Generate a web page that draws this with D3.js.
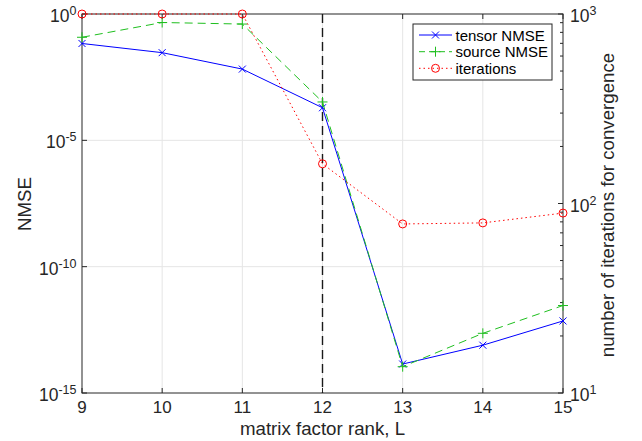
<!DOCTYPE html>
<html><head><meta charset="utf-8">
<script src="https://cdn.jsdelivr.net/npm/d3@7"></script>
<style>body{margin:0;background:#fff;} svg{display:block;font-family:"Liberation Sans",Arial,Helvetica,sans-serif;}</style>
</head><body>
<svg id="c" width="642" height="441"></svg>
<script>
const ranks = [9, 10, 11, 12, 13, 14, 15];
const tensorNMSE = [6.8e-2, 2.95e-2, 6.6e-3, 1.95e-4, 1.4e-14, 7.8e-14, 7.1e-13];
const sourceNMSE = [1.2e-1, 4.6e-1, 4.0e-1, 3.3e-4, 1.1e-14, 2.3e-13, 2.9e-12];
const iterations = [1000, 1000, 1000, 162, 78, 79, 89];
const leftTickExps = [0, -5, -10, -15];
const rightTickExps = [1, 2, 3];
const legendLabels = ["tensor NMSE", "source NMSE", "iterations"];
const markerRank = 12;

const L = 82, R = 563, T = 14, B = 393;
const axisColor = "#262626", gridColor = "#e5e5e5";
const svg = d3.select("#c");

const x = d3.scaleLinear().domain([9, 15]).range([L, R]);
const yL = d3.scaleLog().domain([1e-15, 1]).range([B, T]);
const yR = d3.scaleLog().domain([10, 1000]).range([B, T]);

// grid
const g = svg.append("g");
g.selectAll("line.vg").data(ranks.slice(1, -1)).enter().append("line")
  .attr("x1", d => x(d)).attr("x2", d => x(d)).attr("y1", T).attr("y2", B)
  .attr("stroke", gridColor).attr("stroke-width", 1);
g.selectAll("line.hg").data(leftTickExps.slice(1, -1)).enter().append("line")
  .attr("y1", d => yL(Math.pow(10, d))).attr("y2", d => yL(Math.pow(10, d))).attr("x1", L).attr("x2", R)
  .attr("stroke", gridColor).attr("stroke-width", 1);

// frame
svg.append("rect").attr("x", L).attr("y", T).attr("width", R - L).attr("height", B - T)
  .attr("fill", "none").attr("stroke", axisColor).attr("stroke-width", 1);

// x ticks (bottom + top, inward)
ranks.forEach(r => {
  svg.append("line").attr("x1", x(r)).attr("x2", x(r)).attr("y1", B).attr("y2", B - 5).attr("stroke", axisColor);
  svg.append("line").attr("x1", x(r)).attr("x2", x(r)).attr("y1", T).attr("y2", T + 5).attr("stroke", axisColor);
  svg.append("text").attr("x", x(r)).attr("y", B + 20).attr("text-anchor", "middle")
    .attr("font-size", 17).attr("fill", axisColor).text(r);
});

// left ticks
leftTickExps.forEach(e => {
  const yy = yL(Math.pow(10, e));
  svg.append("line").attr("x1", L).attr("x2", L + 5).attr("y1", yy).attr("y2", yy).attr("stroke", axisColor);
  const t = svg.append("text").attr("x", 76.5).attr("y", yy + 8).attr("text-anchor", "end")
    .attr("font-size", 17.5).attr("fill", axisColor);
  t.append("tspan").text("10");
  t.append("tspan").attr("dy", -7).attr("font-size", 12.5).text(e);
});

// right ticks (major + minor)
rightTickExps.forEach(e => {
  const yy = yR(Math.pow(10, e));
  svg.append("line").attr("x1", R).attr("x2", R - 5).attr("y1", yy).attr("y2", yy).attr("stroke", axisColor);
  const t = svg.append("text").attr("x", 570).attr("y", yy + 8).attr("text-anchor", "start")
    .attr("font-size", 17.5).attr("fill", axisColor);
  t.append("tspan").text("10");
  t.append("tspan").attr("dy", -7).attr("font-size", 12.5).text(e);
});
const minor = [];
[10, 100].forEach(b => { for (let k = 2; k <= 9; k++) minor.push(b * k); });
minor.forEach(v => {
  const yy = yR(v);
  svg.append("line").attr("x1", R).attr("x2", R - 3).attr("y1", yy).attr("y2", yy).attr("stroke", axisColor);
});

// vertical dashed line at rank 12
svg.append("line").attr("x1", x(markerRank)).attr("x2", x(markerRank)).attr("y1", T).attr("y2", B)
  .attr("stroke", "#1a1a1a").attr("stroke-width", 1.4).attr("stroke-dasharray", "9,5");

// series
const blue = "#0000ff", green = "#1fbf1f", red = "#ff0000";
const lineL = d3.line().x((d, i) => x(ranks[i])).y(d => yL(d));
const lineR = d3.line().x((d, i) => x(ranks[i])).y(d => yR(d));

function xMark(sel, cx, cy, c) {
  const s = 3.5;
  sel.append("path").attr("d", `M${cx - s},${cy - s}L${cx + s},${cy + s}M${cx - s},${cy + s}L${cx + s},${cy - s}`)
    .attr("stroke", c).attr("stroke-width", 1).attr("fill", "none");
}
function plusMark(sel, cx, cy, c) {
  const s = 5;
  sel.append("path").attr("d", `M${cx - s},${cy}L${cx + s},${cy}M${cx},${cy - s}L${cx},${cy + s}`)
    .attr("stroke", c).attr("stroke-width", 1).attr("fill", "none");
}
function circMark(sel, cx, cy, c) {
  sel.append("circle").attr("cx", cx).attr("cy", cy).attr("r", 4)
    .attr("stroke", c).attr("stroke-width", 1).attr("fill", "none");
}

svg.append("path").datum(tensorNMSE).attr("d", lineL).attr("fill", "none").attr("stroke", blue).attr("stroke-width", 1);
tensorNMSE.forEach((v, i) => xMark(svg, x(ranks[i]), yL(v), blue));
svg.append("path").datum(sourceNMSE).attr("d", lineL).attr("fill", "none").attr("stroke", green).attr("stroke-width", 1)
  .attr("stroke-dasharray", "8,5");
sourceNMSE.forEach((v, i) => plusMark(svg, x(ranks[i]), yL(v), green));
svg.append("path").datum(iterations).attr("d", lineR).attr("fill", "none").attr("stroke", red).attr("stroke-width", 1)
  .attr("stroke-dasharray", "1.5,3");
iterations.forEach((v, i) => circMark(svg, x(ranks[i]), yR(v), red));

// axis labels
svg.append("text").attr("x", (L + R) / 2).attr("y", 435).attr("text-anchor", "middle")
  .attr("font-size", 18.7).attr("fill", axisColor).text("matrix factor rank, L");
svg.append("text").attr("transform", "translate(30.5,204) rotate(-90)").attr("text-anchor", "middle")
  .attr("font-size", 18.7).attr("fill", axisColor).text("NMSE");
svg.append("text").attr("transform", "translate(614,205) rotate(-90)").attr("text-anchor", "middle")
  .attr("font-size", 18.7).attr("fill", axisColor).text("number of iterations for convergence");

// legend
const lg = svg.append("g");
lg.append("rect").attr("x", 413).attr("y", 24).attr("width", 139).attr("height", 56)
  .attr("fill", "#fff").attr("stroke", axisColor).attr("stroke-width", 1);
const rows = [35, 51.7, 68.3];
const styles = [
  {c: blue, dash: null, mark: xMark},
  {c: green, dash: "6,4", mark: plusMark},
  {c: red, dash: "1.5,3", mark: circMark}
];
legendLabels.forEach((lab, i) => {
  const yy = rows[i], st = styles[i];
  const ln = lg.append("line").attr("x1", 419).attr("x2", 452).attr("y1", yy).attr("y2", yy)
    .attr("stroke", st.c).attr("stroke-width", 1);
  if (st.dash) ln.attr("stroke-dasharray", st.dash);
  st.mark(lg, 435.5, yy, st.c);
  lg.append("text").attr("x", 455.5).attr("y", yy + 5.5).attr("font-size", 15).attr("fill", "#000").text(lab);
});
</script>
</body></html>
